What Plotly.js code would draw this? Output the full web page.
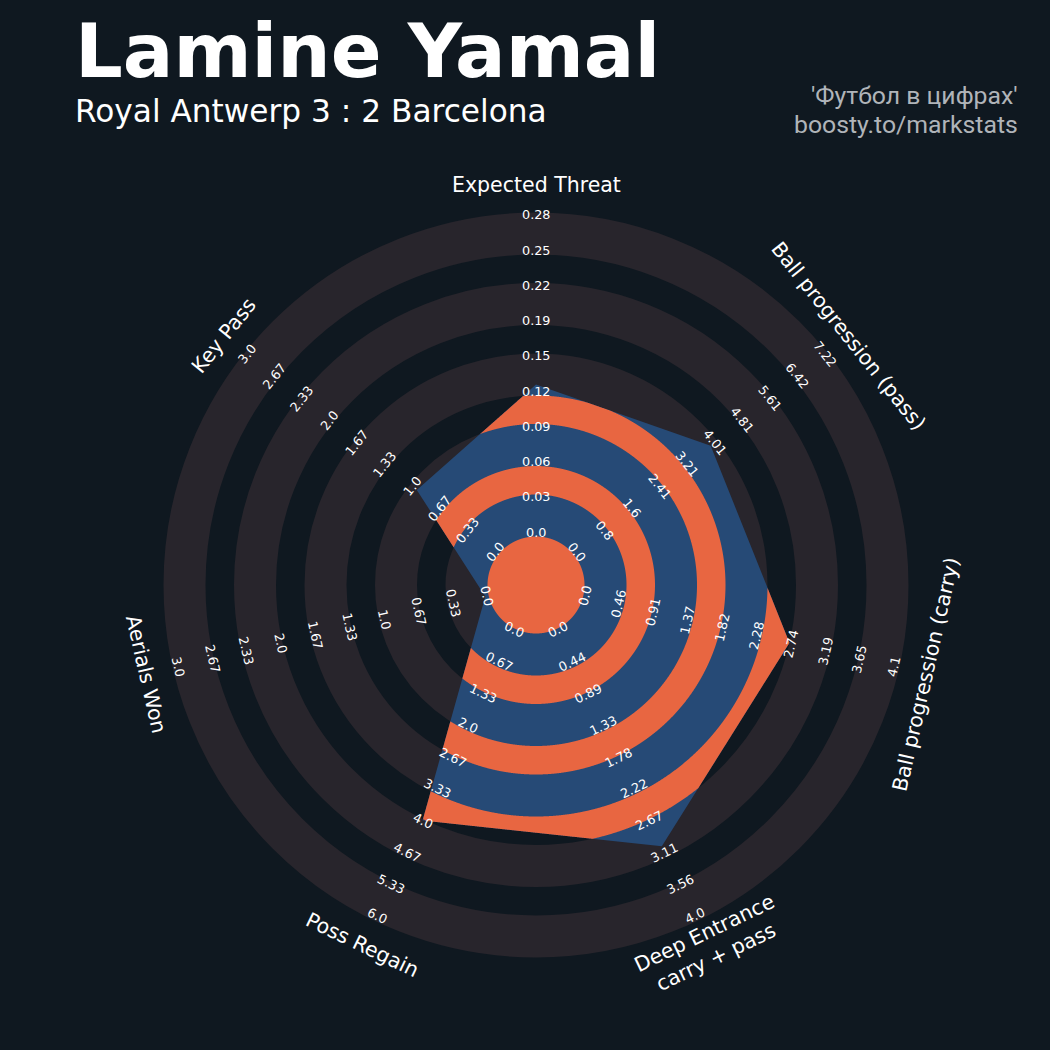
<!DOCTYPE html>
<html><head><meta charset="utf-8">
<script src="https://cdn.plot.ly/plotly-3.0.1.min.js"></script>
<style>html,body{margin:0;padding:0;background:#0f1820;} #chart{width:1050px;height:1050px;}</style>
</head><body><div id="chart"></div>
<script>
// ---------------- data ----------------
const params = ['Expected Threat', 'Ball progression (pass)', 'Ball progression (carry)',
  'Deep Entrance<br>carry + pass', 'Poss Regain', 'Aerials Won', 'Key Pass'];
const values = [0.13, 3.9, 2.69, 3.0, 3.96, 0.0, 0.95];
const lowRange = [0, 0, 0, 0, 0, 0, 0];
const highRange = [0.278, 7.218, 4.104, 4.0, 6.0, 3.0, 3.0];
const labelsET = ['0.0','0.03','0.06','0.09','0.12','0.15','0.19','0.22','0.25','0.28'];
const labelsBPP = ['0.0','0.8','1.6','2.41','3.21','4.01','4.81','5.61','6.42','7.22'];
const labelsBPC = ['0.0','0.46','0.91','1.37','1.82','2.28','2.74','3.19','3.65','4.1'];
const labelsDE = ['0.0','0.44','0.89','1.33','1.78','2.22','2.67','3.11','3.56','4.0'];
const labelsPR = ['0.0','0.67','1.33','2.0','2.67','3.33','4.0','4.67','5.33','6.0'];
const labelsAW = ['0.0','0.33','0.67','1.0','1.33','1.67','2.0','2.33','2.67','3.0'];
const labelsKP = ['0.0','0.33','0.67','1.0','1.33','1.67','2.0','2.33','2.67','3.0'];
const rangeLabels = [labelsET, labelsBPP, labelsBPC, labelsDE, labelsPR, labelsAW, labelsKP];
const titleText = 'Lamine Yamal';
const subtitleText = 'Royal Antwerp 3 : 2 Barcelona';
const creditLines = ["'Футбол в цифрах'", 'boosty.to/markstats'];

// ---------------- style / geometry ----------------
const BG = '#0f1820', GRAY = '#28252c', BLUE = '#264a76', ORANGE = '#e86641';
const R0 = 52, R9 = 369.3;               // radius of min / max value
const LABEL_R0 = 51.4, LABEL_STEP = 35.26, LABEL_LIFT = 1.5;
const PARAM_R = 400;
const GRAY_RINGS = [[48.5, 90.5], [119, 161], [189.5, 231.5], [260, 302], [330.5, 372.5]];
const ORANGE_BANDS = [[0, 48.5], [90.5, 119], [161, 189.5], [231.5, 260], [302, 330.5]];
const N = params.length;
const D2R = Math.PI / 180;
const angleOf = i => i * 360 / N;
const rot = a => (a > 90 && a < 270) ? a - 180 : (a >= 270 ? a - 360 : a);
const radOf = (v, i) => R0 + (v - lowRange[i]) / (highRange[i] - lowRange[i]) * (R9 - R0);

// polygon vertices
const vr = values.map((v, i) => radOf(v, i));
const vx = vr.map((r, i) => r * Math.sin(angleOf(i) * D2R));
const vy = vr.map((r, i) => r * Math.cos(angleOf(i) * D2R));

// radius of polygon boundary along direction theta (deg, clockwise from top)
function polyR(theta) {
  const seg = 360 / N;
  let i = Math.floor(theta / seg) % N;
  const j = (i + 1) % N;
  const px = vx[i], py = vy[i], ex = vx[j] - vx[i], ey = vy[j] - vy[i];
  const dx = Math.sin(theta * D2R), dy = Math.cos(theta * D2R);
  const den = dx * ey - dy * ex;
  if (Math.abs(den) < 1e-12) return vr[i];
  return (px * ey - py * ex) / den;
}

const thetas = [];
for (let k = 0; k <= 3600; k++) thetas.push(k / 10);
for (let i = 0; i < N; i++) thetas.push(angleOf(i));
thetas.sort((a, b) => a - b);

const traces = [];
traces.push({
  type: 'scatter', mode: 'lines', x: vx.concat([vx[0]]), y: vy.concat([vy[0]]),
  fill: 'toself', fillcolor: BLUE, line: {width: 0, color: BLUE}, hoverinfo: 'skip'
});
ORANGE_BANDS.forEach(([r1, r2]) => {
  const xs = [], ys = [];
  thetas.forEach(t => {
    const r = Math.max(r1, Math.min(r2, polyR(t % 360)));
    xs.push(r * Math.sin(t * D2R)); ys.push(r * Math.cos(t * D2R));
  });
  for (let k = thetas.length - 1; k >= 0; k--) {
    const t = thetas[k];
    xs.push(r1 * Math.sin(t * D2R)); ys.push(r1 * Math.cos(t * D2R));
  }
  traces.push({type: 'scatter', mode: 'lines', x: xs, y: ys, fill: 'toself',
    fillcolor: ORANGE, line: {width: 0, color: ORANGE, simplify: false}, hoverinfo: 'skip'});
});

const shapes = GRAY_RINGS.map(([a, b]) => {
  const m = (a + b) / 2;
  return {type: 'circle', xref: 'x', yref: 'y', x0: -m, x1: m, y0: -m, y1: m,
    line: {color: GRAY, width: b - a}, fillcolor: 'rgba(0,0,0,0)', layer: 'below'};
});

const annotations = [];
rangeLabels.forEach((labs, i) => {
  const a = angleOf(i);
  const ta = rot(a);
  labs.forEach((txt, k) => {
    const r = LABEL_R0 + k * LABEL_STEP;
    annotations.push({
      x: r * Math.sin(a * D2R) + LABEL_LIFT * Math.sin(ta * D2R),
      y: r * Math.cos(a * D2R) + LABEL_LIFT * Math.cos(ta * D2R),
      xref: 'x', yref: 'y',
      text: txt, showarrow: false, textangle: ta, xanchor: 'center', yanchor: 'middle',
      font: {family: 'DejaVu Sans', size: 12.8, color: '#ffffff'}});
  });
});
params.forEach((p, i) => {
  const a = angleOf(i);
  annotations.push({x: PARAM_R * Math.sin(a * D2R), y: PARAM_R * Math.cos(a * D2R), xref: 'x', yref: 'y',
    text: p, showarrow: false, textangle: rot(a), xanchor: 'center', yanchor: 'middle',
    font: {family: 'DejaVu Sans', size: 20.5, color: '#ffffff'}});
});
const py = p => 1 - p / 1050;
annotations.push({xref: 'paper', yref: 'paper', x: 73 / 1050, y: py(51), xanchor: 'left', yanchor: 'middle',
  text: titleText, showarrow: false, font: {family: 'DejaVu Sans', size: 75, color: '#ffffff', weight: 'bold'}});
annotations.push({xref: 'paper', yref: 'paper', x: 73 / 1050, y: py(111), xanchor: 'left', yanchor: 'middle',
  text: subtitleText, showarrow: false, font: {family: 'DejaVu Sans', size: 31.2, color: '#ffffff'}});
annotations.push({xref: 'paper', yref: 'paper', x: 1020 / 1050, y: py(96), xanchor: 'right', yanchor: 'middle',
  text: creditLines[0], showarrow: false, font: {family: 'Roboto', size: 24.8, color: '#b0b4b9'}});
annotations.push({xref: 'paper', yref: 'paper', x: 1020 / 1050, y: py(124), xanchor: 'right', yanchor: 'middle',
  text: creditLines[1], showarrow: false, font: {family: 'Roboto', size: 24.8, color: '#b0b4b9'}});

const layout = {
  width: 1050, height: 1050, margin: {l: 0, r: 0, t: 0, b: 0, pad: 0},
  paper_bgcolor: BG, plot_bgcolor: BG, showlegend: false,
  xaxis: {range: [-536, 514], visible: false, fixedrange: true},
  yaxis: {range: [-465, 585], visible: false, fixedrange: true},
  shapes: shapes, annotations: annotations
};
Plotly.newPlot('chart', traces, layout, {displayModeBar: false, staticPlot: true});
</script>
</body></html>
